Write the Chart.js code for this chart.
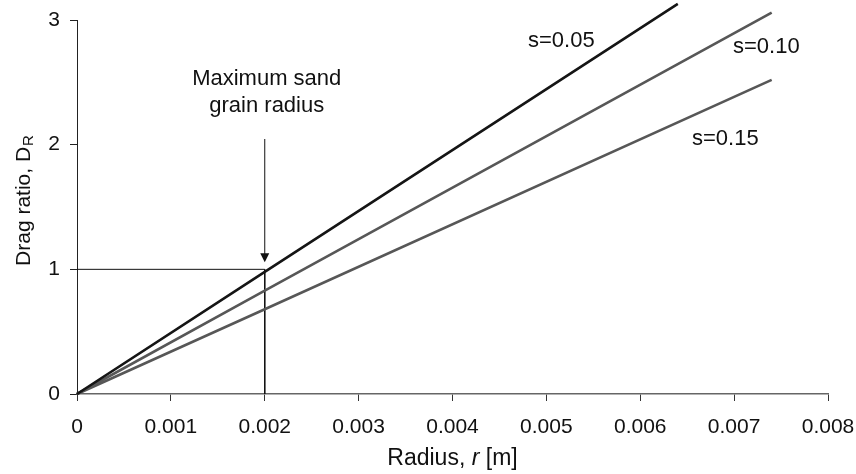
<!DOCTYPE html>
<html>
<head>
<meta charset="utf-8">
<script src="https://cdn.jsdelivr.net/npm/chart.js@4.4.1/dist/chart.umd.min.js"></script>
<style>
  body { margin: 0; background: #fff; }
  #wrap { width: 856px; height: 474px; }
</style>
</head>
<body>
<div id="wrap"><canvas id="drag"></canvas></div>
<script>
// values
const seriesNames = ['s=0.05', 's=0.10', 's=0.15'];
const radius005 = [0, 0.002, 0.0064];
const drag005 = [0, 0.98, 3.13];
const radius010 = [0, 0.002, 0.0074];
const drag010 = [0, 0.83, 3.06];
const radius015 = [0, 0.002, 0.0074];
const drag015 = [0, 0.68, 2.52];

const xTicks = [0, 0.001, 0.002, 0.003, 0.004, 0.005, 0.006, 0.007, 0.008];
const yTicks = [0, 1, 2, 3];

// maximum sand grain radius marker
const maxGrainRadius = 0.002;
const maxGrainDrag = 1;

const FONT = '"Liberation Sans", Arial, Helvetica, sans-serif';

function toPoints(xs, ys) {
    return xs.map((x, i) => ({ x: x, y: ys[i] }));
}

const ctx = document.getElementById('drag').getContext('2d');

// labels, arrow and axis titles drawn on top
const extras = {
    id: 'extras',
    afterDraw(chart) {
        const c = chart.ctx;
        const xs = chart.scales.x;
        const ys = chart.scales.y;
        c.save();
        c.fillStyle = '#111';
        c.textBaseline = 'alphabetic';
        c.font = '22px ' + FONT;

        // series labels
        c.textAlign = 'left';
        c.fillText(seriesNames[0], 528, 47);
        c.fillText(seriesNames[1], 733, 53);
        c.fillText(seriesNames[2], 692, 145);

        // note + arrow
        c.textAlign = 'center';
        const ax = xs.getPixelForValue(maxGrainRadius);
        c.fillText('Maximum sand', ax + 2, 85);
        c.fillText('grain radius', ax + 2, 112);

        const y0 = 139;
        const y1 = ys.getPixelForValue(maxGrainDrag) - 7;
        c.strokeStyle = '#111';
        c.lineWidth = 1;
        c.beginPath();
        c.moveTo(ax, y0);
        c.lineTo(ax, y1 - 8);
        c.stroke();
        c.beginPath();
        c.moveTo(ax - 4.5, y1 - 9);
        c.lineTo(ax + 4.5, y1 - 9);
        c.lineTo(ax, y1);
        c.closePath();
        c.fill();

        // x title: Radius, r [m]
        c.textAlign = 'left';
        const p1 = 'Radius, ', p2 = 'r', p3 = ' [m]';
        c.font = '23px ' + FONT;
        const w1 = c.measureText(p1).width;
        c.font = 'italic 23px ' + FONT;
        const w2 = c.measureText(p2).width;
        c.font = '23px ' + FONT;
        const w3 = c.measureText(p3).width;
        const tx = (chart.chartArea.left + chart.chartArea.right) / 2 - (w1 + w2 + w3) / 2;
        c.fillText(p1, tx, 465);
        c.font = 'italic 23px ' + FONT;
        c.fillText(p2, tx + w1, 465);
        c.font = '23px ' + FONT;
        c.fillText(p3, tx + w1 + w2, 465);

        // y title: Drag ratio, D_R
        c.translate(30, 201);
        c.rotate(-Math.PI / 2);
        const q1 = 'Drag ratio, D', q2 = 'R';
        c.font = '21px ' + FONT;
        const v1 = c.measureText(q1).width;
        c.font = '15px ' + FONT;
        const v2 = c.measureText(q2).width;
        const start = -(v1 + v2) / 2;
        c.font = '21px ' + FONT;
        c.fillText(q1, start, 0);
        c.font = '15px ' + FONT;
        c.fillText(q2, start + v1 + 1, 3);
        c.restore();
    }
};

const lineStyle = { fill: false, pointRadius: 0, borderWidth: 2.6, clip: false, tension: 0 };

const dragChart = new Chart(ctx, {
    type: 'line',
    data: {
        datasets: [
            Object.assign({ label: seriesNames[0], data: toPoints(radius005, drag005), borderColor: '#151515' }, lineStyle),
            Object.assign({ label: seriesNames[1], data: toPoints(radius010, drag010), borderColor: '#575757' }, lineStyle),
            Object.assign({ label: seriesNames[2], data: toPoints(radius015, drag015), borderColor: '#575757' }, lineStyle),
            {
                label: 'marker',
                data: [
                    { x: 0, y: maxGrainDrag },
                    { x: maxGrainRadius, y: maxGrainDrag },
                    { x: maxGrainRadius, y: 0 }
                ],
                borderColor: '#111',
                borderWidth: 1,
                pointRadius: 0,
                fill: false,
                tension: 0
            }
        ]
    },
    options: {
        responsive: true,
        maintainAspectRatio: false,
        animation: false,
        layout: { padding: { left: 0, top: 20, right: 28, bottom: 0 } },
        plugins: {
            legend: { display: false },
            tooltip: { enabled: false }
        },
        scales: {
            x: {
                type: 'linear',
                min: 0,
                max: 0.008,
                afterFit(scale) {
                    scale.height = 80;
                    scale.paddingLeft = 0;
                    scale.paddingRight = 0;
                },
                afterBuildTicks(scale) { scale.ticks = xTicks.map(v => ({ value: v })); },
                border: { color: '#666', width: 1.5 },
                grid: { drawOnChartArea: false, drawTicks: true, tickLength: 7, color: '#333' },
                ticks: {
                    color: '#111',
                    padding: 14,
                    maxRotation: 0,
                    font: { family: FONT, size: 21 },
                    callback: v => v === 0 ? '0' : v.toFixed(3)
                }
            },
            y: {
                min: 0,
                max: 3,
                afterFit(scale) {
                    scale.width = 77;
                    scale.paddingTop = 0;
                    scale.paddingBottom = 0;
                },
                afterBuildTicks(scale) { scale.ticks = yTicks.map(v => ({ value: v })); },
                border: { color: '#222', width: 1 },
                grid: { drawOnChartArea: false, drawTicks: true, tickLength: 7, color: '#222' },
                ticks: {
                    color: '#111',
                    padding: 10,
                    font: { family: FONT, size: 21 },
                    callback: v => String(v)
                }
            }
        }
    },
    plugins: [extras]
});
</script>
</body>
</html>
